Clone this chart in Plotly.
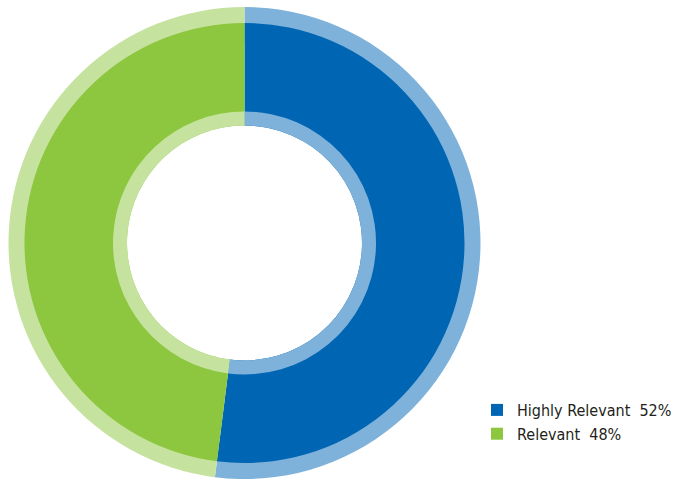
import plotly.graph_objects as go

# Share of respondents by relevance rating
categories = ["Highly Relevant", "Relevant"]
shares = [52, 48]

dark_colors = ["#0066b3", "#8dc63f"]
light_colors = ["#7fb2da", "#c6e29f"]

W, H = 677, 479
cx, cy = 244.5, 236.0  # centre in px (cy measured from the bottom)


def dom(r):
    return dict(x=[(cx - r) / W, (cx + r) / W], y=[(cy - r) / H, (cy + r) / H])


legend_labels = [f"{c}\u00a0\u00a0{v}%" for c, v in zip(categories, shares)]

common = dict(labels=legend_labels, values=shares, sort=False,
              direction="clockwise", rotation=0, textinfo="none",
              hoverinfo="label", marker_line_width=0)

fig = go.Figure()
# outer pale rim
fig.add_trace(go.Pie(**common, domain=dom(236), hole=0.85,
                     marker_colors=light_colors, showlegend=False))
# main band
fig.add_trace(go.Pie(**common, domain=dom(220), hole=117.5 / 220,
                     marker_colors=dark_colors, showlegend=True))
# inner pale rim
fig.add_trace(go.Pie(**common, domain=dom(131.5), hole=117.5 / 131.5,
                     marker_colors=light_colors, showlegend=False))

fig.update_layout(
    width=W, height=H,
    margin=dict(l=0, r=0, t=0, b=0),
    paper_bgcolor="white",
    legend=dict(x=1, y=(H - 393) / H, xanchor="right", yanchor="top",
                font=dict(family="DejaVu Sans Condensed", size=16, color="#231f20"),
                traceorder="normal", itemclick=False),
)

fig.write_html("out.html")
